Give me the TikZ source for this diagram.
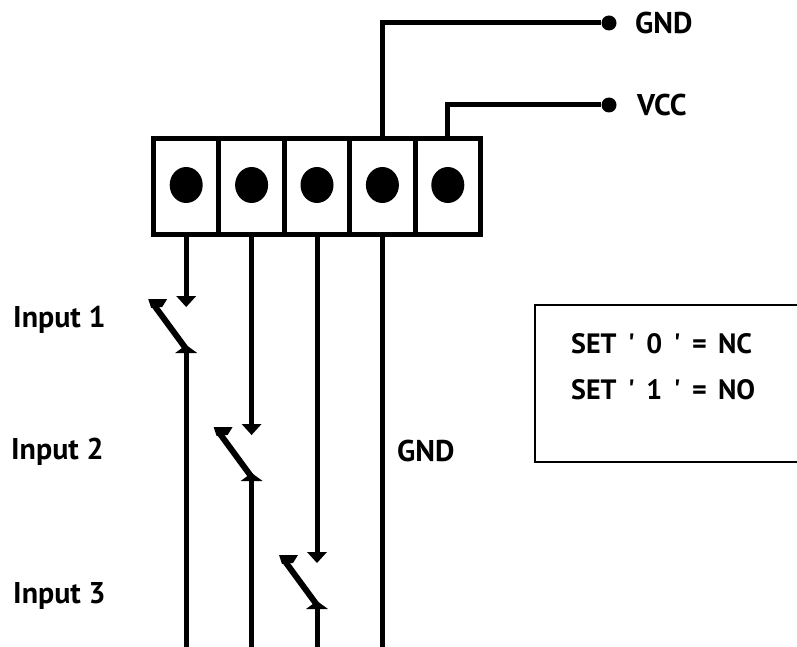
\documentclass[tikz,border=0pt]{standalone}
\usepackage{fontspec}
\setmainfont{PT Sans}
\newfontfamily\notefont{PT Sans}[WordSpace=1.6]
\usetikzlibrary{positioning,shapes.geometric}

\begin{document}
\begin{tikzpicture}[x=1pt,y=1pt,
        every node/.style={inner sep=0pt},
        cell/.style={draw,line width=5pt,outer sep=0pt,minimum width=65.4pt,minimum height=96pt},
        hole/.style={ellipse,fill,minimum width=33pt,minimum height=36pt},
        term/.style={circle,fill,minimum size=15pt},
        wire/.style={line width=5pt},
        lever/.style={line width=6pt},
        lbl/.style={anchor=west,font=\bfseries\fontsize{30}{32}\selectfont},
        note/.style={anchor=west,font=\notefont\bfseries\fontsize{28}{30}\selectfont},
        legend/.style={draw,line width=2.5pt,minimum width=280pt,minimum height=157pt}]
            \useasboundingbox (0,0) rectangle (797,-647);
            % terminal block
            \node[cell] (t1) at (186.2,-186.5) {};
            \foreach \i [remember=\i as \j (initially 1)] in {2,...,5}
                \node[cell,right=0pt of t\j] (t\i) {};
            \foreach \i in {1,...,5}
                \node[hole] (h\i) at ([yshift=1.5pt]t\i) {};
            % supply
            \node[term] (gnd) at (609,-23) {};
            \node[term] (vcc) at (609,-105) {};
            \node[lbl,right=26pt of gnd.center] (gndtxt) {GND};
            \node[lbl,right=28pt of vcc.center] (vcctxt) {VCC};
            \draw[wire] (t4.north) |- (gnd);
            \draw[wire] (t5.north) |- (vcc);
            % common ground
            \coordinate (bot) at (0,-660);
            \draw[wire] (t4.south) -- (t4.south |- bot);
            \node[lbl] (gndwire) at (397,-451) {GND};
            % switches
            \foreach \i/\y in {1/307,2/435,3/563} {
                \coordinate (lv\i) at (0,-\y);
                \coordinate (no\i) at (t\i.south |- lv\i);
                \coordinate (nc\i) at ([yshift=-38pt]no\i);
                \draw[wire] (t\i.south) -- ([yshift=9pt]no\i);
                \fill (no\i) -- ++(-10,11) -- ++(20,0) -- cycle;
                \draw[wire] ([yshift=-7pt]nc\i) -- (nc\i |- bot);
                \fill (nc\i) -- ++(-11,-8) -- ++(22,0) -- cycle;
                \draw[lever] ([shift={(-33pt,3pt)}]no\i) -- ([yshift=-4pt]nc\i);
                \fill ([shift={(-38pt,8pt)}]no\i) -- ++(19,0) -- ++(-5,-8) -- ++(-11,-1) -- cycle;
            }
            \node[lbl] (in1) at (13,-320) {Input 1};
            \node[lbl] (in2) at (11,-452) {Input 2};
            \node[lbl] (in3) at (13,-596) {Input 3};
            % legend
            \node[legend] (key) at (675,-383.5) {};
            \node[note] (set0) at (571,-344) {SET \textquotesingle{} 0 \textquotesingle{} = NC};
            \node[note] (set1) at (571,-390) {SET \textquotesingle{} 1 \textquotesingle{} = NO};
        \end{tikzpicture}
\end{document}
